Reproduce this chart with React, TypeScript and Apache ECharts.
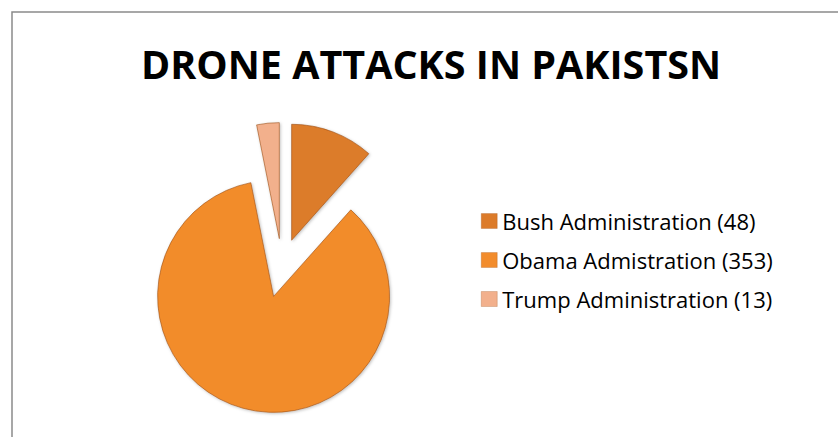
import React, { useEffect, useRef } from "react";
import * as echarts from "echarts";

const titleText = "DRONE ATTACKS IN PAKISTSN";
const categories = ["Bush Administration (48)", "Obama Admistration (353)", "Trump Administration (13)"];
const values = [48, 353, 13];
const colors = ["#DC7B2A", "#F28C2C", "#F2B08C"];
// which series (0: larger explode, 1: smaller explode) draws each slice
const sliceGroup = [1, 0, 1];

export default function App() {
  const ref = useRef<HTMLDivElement>(null);
  useEffect(() => {
    if (!ref.current) return;
    const chart = echarts.init(ref.current, undefined, { renderer: "svg" });
    const offsets = [32, 27];
    const series = offsets.map((off, g) => ({
      type: "pie",
      center: [282, 265.5],
      radius: [0, 116],
      startAngle: 90,
      clockwise: true,
      selectedMode: "multiple",
      selectedOffset: off,
      label: { show: false },
      labelLine: { show: false },
      emphasis: { disabled: true },
      silent: true,
      data: categories.map((name, i) => {
        const mine = sliceGroup[i] === g;
        return {
          name,
          value: values[i],
          selected: mine,
          itemStyle: mine
            ? {
                color: colors[i],
                borderColor: "rgba(150,70,10,0.55)",
                borderWidth: 1,
                shadowColor: "rgba(0,0,0,0.25)",
                shadowBlur: 3,
                shadowOffsetX: 1,
                shadowOffsetY: 1,
              }
            : { color: "rgba(0,0,0,0)", borderWidth: 0 },
        };
      }),
    }));
    chart.setOption({
      animation: false,
      backgroundColor: "#ffffff",
      title: {
        text: titleText,
        left: 426,
        textAlign: "center",
        top: 39,
        textStyle: {
          fontFamily: "Open Sans",
          fontWeight: "bold",
          fontSize: 39.5,
          color: "#000000",
        },
      },
      legend: {
        orient: "vertical",
        left: 476,
        top: 205,
        padding: 5,
        itemWidth: 16,
        itemHeight: 15,
        itemGap: 17,
        icon: "rect",
        selectedMode: false,
        data: categories.map((name, i) => ({
          name,
          itemStyle: { color: colors[i], borderColor: "rgba(150,70,10,0.5)", borderWidth: 0.5 },
        })),
        textStyle: { fontFamily: "Open Sans", fontSize: 22, color: "#000000" },
      },
      graphic: [
        {
          type: "rect",
          silent: true,
          shape: { x: 12, y: 12, width: 900, height: 500 },
          style: { fill: "none", stroke: "#8a8a8a", lineWidth: 1.5 },
        },
      ],
      series,
    });
    return () => chart.dispose();
  }, []);
  return (
    <div style={{ position: "fixed", left: 0, top: 0 }}>
      <div ref={ref} style={{ width: 838, height: 437 }} />
    </div>
  );
}
